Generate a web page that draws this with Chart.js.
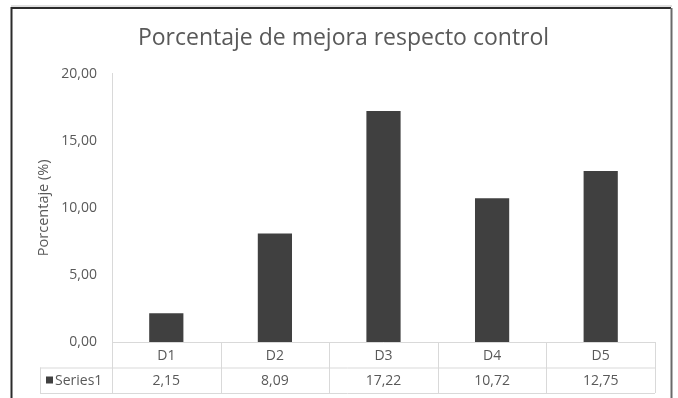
<!DOCTYPE html>
<html lang="es">
<head>
  <meta charset="UTF-8">
  <title>Porcentaje de mejora respecto control</title>
  <script src="https://cdn.jsdelivr.net/npm/chart.js"></script>
  <style>
   body { margin: 0; background: #fff; }
   #wrap { width: 678px; height: 398px; }
  </style>
</head>
<body>
  <div id="wrap"><canvas id="myChart" width="678" height="398"></canvas></div>
  <script>
    // data
    const categories = ['D1', 'D2', 'D3', 'D4', 'D5'];
    const series1 = [2.15, 8.09, 17.22, 10.72, 12.75];
    const seriesName = 'Series1';
    const yTicks = [0, 5, 10, 15, 20];

    const txtColor = '#595959';
    const lineColor = '#d9d9d9';
    const barColor = '#404040';
    const fontFam = '"Open Sans", "Liberation Sans", sans-serif';

    function fmt(v) { return v.toFixed(2).replace('.', ','); }

    // frame + data table under the plot
    const tablePlugin = {
      id: 'tablePlugin',
      afterDraw(chart) {
        const ctx = chart.ctx, a = chart.chartArea, x = chart.scales.x;
        const rowH = 25.5, top = a.bottom, mid = top + rowH, bot = mid + rowH, left0 = 40;
        const w = (a.right - a.left) / categories.length;
        ctx.save();
        ctx.strokeStyle = lineColor; ctx.lineWidth = 1;
        ctx.beginPath();
        ctx.moveTo(a.left, top + 0.5); ctx.lineTo(a.right, top + 0.5);
        ctx.moveTo(left0, mid + 0.5); ctx.lineTo(a.right, mid + 0.5);
        ctx.moveTo(left0, bot + 0.5); ctx.lineTo(a.right, bot + 0.5);
        ctx.moveTo(left0 + 0.5, mid); ctx.lineTo(left0 + 0.5, bot);
        for (let i = 0; i <= categories.length; i++) {
          const xx = Math.round(a.left + i * w) + 0.5;
          ctx.moveTo(xx, top); ctx.lineTo(xx, bot);
        }
        ctx.stroke();

        ctx.fillStyle = txtColor;
        ctx.font = '14px ' + fontFam;
        ctx.textAlign = 'center'; ctx.textBaseline = 'middle';
        categories.forEach((c, i) => {
          const cx = x.getPixelForValue(i);
          ctx.fillText(c, cx, top + rowH / 2 + 1);
          ctx.fillText(fmt(series1[i]), cx, mid + rowH / 2 + 1);
        });
        ctx.fillStyle = barColor;
        ctx.fillRect(46, mid + 9, 7, 7);
        ctx.fillStyle = txtColor;
        ctx.textAlign = 'left';
        ctx.fillText(seriesName, 55, mid + rowH / 2 + 1);

        // outer frame
        ctx.lineWidth = 2;
        ctx.strokeStyle = '#e0e0e0';
        ctx.beginPath(); ctx.moveTo(11, 6); ctx.lineTo(672, 6); ctx.stroke();
        ctx.strokeStyle = '#2b2b2b';
        ctx.beginPath(); ctx.moveTo(11.5, 398); ctx.lineTo(11.5, 8); ctx.lineTo(671, 8); ctx.stroke();
        ctx.strokeStyle = '#6a6a6a';
        ctx.beginPath(); ctx.moveTo(671.5, 8); ctx.lineTo(671.5, 398); ctx.stroke();
        ctx.restore();
      }
    };

    const ctx = document.getElementById('myChart').getContext('2d');
    const myChart = new Chart(ctx, {
      type: 'bar',
      data: {
        labels: categories,
        datasets: [
          { label: seriesName, data: series1, backgroundColor: barColor, barPercentage: 0.315, categoryPercentage: 1 }
        ]
      },
      options: {
        responsive: false, animation: false,
        layout: { padding: { left: 32, right: 23, top: 0, bottom: 5 } },
        plugins: {
          legend: { display: false },
          tooltip: { enabled: false },
          title: {
            display: true, text: 'Porcentaje de mejora respecto control', color: txtColor,
            font: { family: fontFam, size: 23, weight: 'normal' }, padding: { top: 25, bottom: 21 }
          }
        },
        scales: {
          x: {
            grid: { display: false }, border: { display: false },
            ticks: { display: false },
            afterFit(s) { s.height = 51; }
          },
          y: {
            min: 0, max: 20,
            afterBuildTicks(s) { s.ticks = yTicks.map(v => ({ value: v })); },
            grid: { display: false, drawTicks: false },
            border: { display: true, color: lineColor },
            ticks: { color: txtColor, font: { family: fontFam, size: 14 }, padding: 15, callback: v => fmt(v) },
            title: { display: true, text: 'Porcentaje (%)', color: txtColor, font: { family: fontFam, size: 14.5 }, padding: { top: 3, bottom: 0 } },
            afterFit(s) { s.width = 80; }
          }
        }
      },
      plugins: [tablePlugin]
    });
  </script>
</body>
</html>
